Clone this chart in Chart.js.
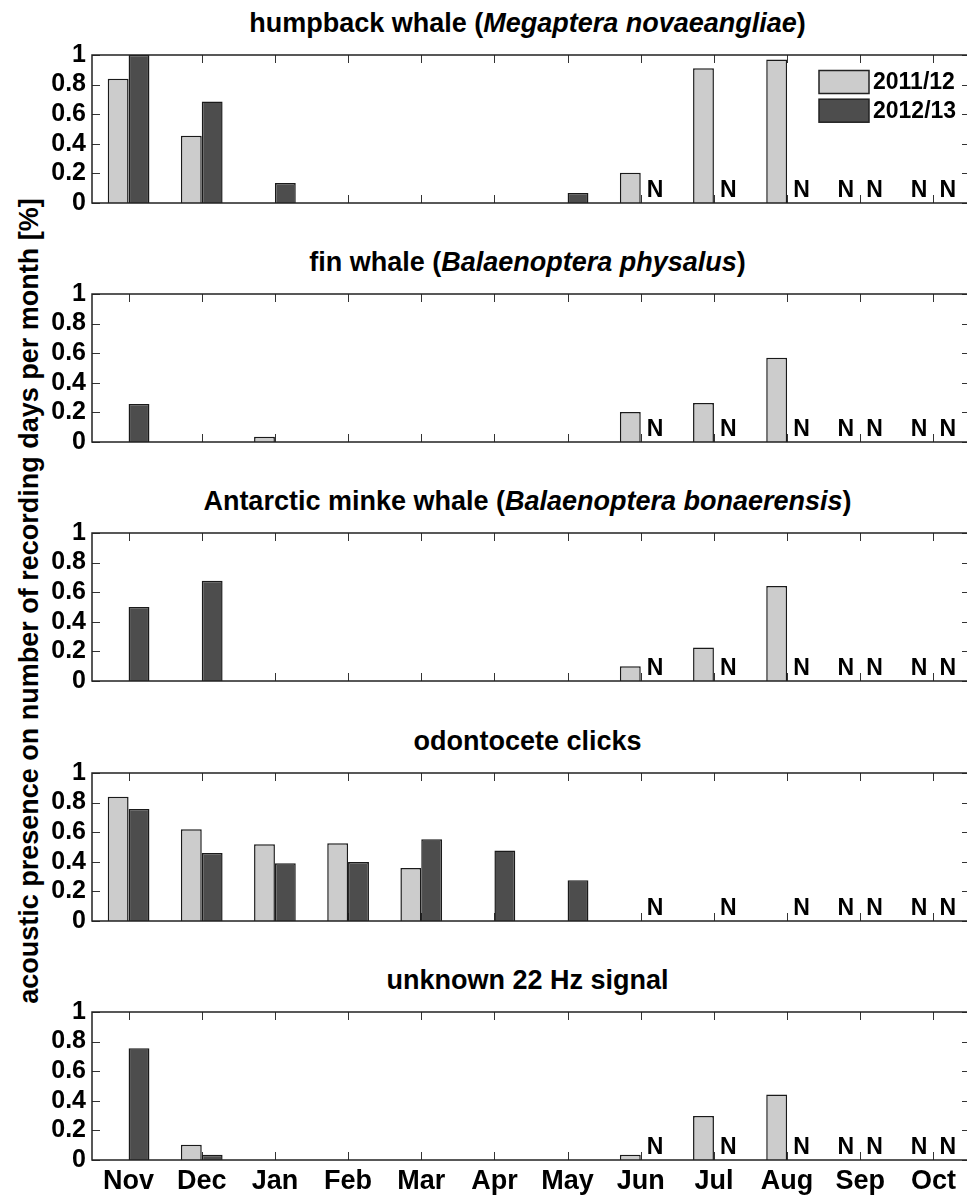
<!DOCTYPE html>
<html>
<head>
<meta charset="utf-8">
<script src="https://cdn.jsdelivr.net/npm/chart.js@4.4.1/dist/chart.umd.min.js"></script>
<style>
  html, body { margin: 0; padding: 0; background: #fff; overflow: hidden; }
  #fig {
    position: relative; width: 967px; height: 1196px; overflow: hidden;
    font-family: "Liberation Sans", Arial, sans-serif; font-weight: bold; color: #000;
  }
  #fig canvas { position: absolute; left: 0; }
  .title {
    position: absolute; left: 0; width: 1055px; text-align: center;
    font-size: 27px; line-height: 27px; white-space: nowrap;
  }
  #ylabel {
    position: absolute; left: 29px; top: 601px;
    font-size: 27px; line-height: 27px; white-space: nowrap;
    transform: translate(-50%, -50%) rotate(-90deg);
  }
</style>
</head>
<body>
<div id="fig">
  <div id="ylabel">acoustic presence on number of recording days per month [%]</div>
</div>
<script>
// months of the recording year, Nov..Oct
const months = ['Nov', 'Dec', 'Jan', 'Feb', 'Mar', 'Apr', 'May', 'Jun', 'Jul', 'Aug', 'Sep', 'Oct'];
const seasons = ['2011/12', '2012/13'];

// panel headings: common name + species (italic), empty when there is none
const commonNames = ['humpback whale', 'fin whale', 'Antarctic minke whale', 'odontocete clicks', 'unknown 22 Hz signal'];
const speciesNames = ['Megaptera novaeangliae', 'Balaenoptera physalus', 'Balaenoptera bonaerensis', '', ''];

// fraction of recording days with presence; null = no recordings (drawn as "N")
const humpback1112 = [0.84, 0.455, 0, 0, 0, 0, 0, 0.205, 0.91, 0.97, null, null];
const humpback1213 = [1.0, 0.685, 0.135, 0, 0, 0, 0.067, null, null, null, null, null];

const fin1112 = [0, 0, 0.035, 0, 0, 0, 0, 0.203, 0.264, 0.569, null, null];
const fin1213 = [0.257, 0, 0, 0, 0, 0, 0, null, null, null, null, null];

const minke1112 = [0, 0, 0, 0, 0, 0, 0, 0.10, 0.226, 0.642, null, null];
const minke1213 = [0.5, 0.678, 0, 0, 0, 0, 0, null, null, null, null, null];

const odonto1112 = [0.839, 0.62, 0.519, 0.526, 0.358, 0, 0, 0, 0, 0, null, null];
const odonto1213 = [0.756, 0.459, 0.391, 0.398, 0.553, 0.477, 0.275, null, null, null, null, null];

const hz22_1112 = [0, 0.103, 0, 0, 0, 0, 0, 0.036, 0.298, 0.442, null, null];
const hz22_1213 = [0.755, 0.036, 0, 0, 0, 0, 0, null, null, null, null, null];

const series = [
  [humpback1112, humpback1213],
  [fin1112, fin1213],
  [minke1112, minke1213],
  [odonto1112, odonto1213],
  [hz22_1112, hz22_1213]
];

// layout
const plotTops = [55, 294, 533, 773, 1012];
const PLOT_H = 148;
const PAD = 22;          // >= half tick label + tick padding, so chart area starts exactly here
const XLABEL_H = 36;
const AXIS_LEFT = 92;
const CANVAS_W = 980;
const PAD_RIGHT = 10;
const TICK = 8;
const CAT_PCT = 0.57;
const FONT = '"Liberation Sans", Arial, sans-serif';
const colors = ['#cccccc', '#4d4d4d'];

Chart.defaults.font.family = FONT;
Chart.defaults.font.weight = 'bold';
Chart.defaults.color = '#000';

// box, inward ticks, "N" markers and legend, MATLAB style
const framePlugin = {
  id: 'frame',
  beforeDatasetsDraw(chart) {
    const { ctx, chartArea: a, scales: { x, y } } = chart;
    ctx.save();
    ctx.strokeStyle = '#333';
    ctx.lineWidth = 1;
    ctx.beginPath();
    chart.data.labels.forEach((_, i) => {
      const px = Math.round(x.getPixelForValue(i)) + 0.5;
      ctx.moveTo(px, a.top); ctx.lineTo(px, a.top + TICK);
      ctx.moveTo(px, a.bottom); ctx.lineTo(px, a.bottom - TICK);
    });
    y.ticks.forEach(t => {
      const py = Math.round(y.getPixelForValue(t.value)) + 0.5;
      ctx.moveTo(a.left, py); ctx.lineTo(a.left + TICK, py);
      ctx.moveTo(a.right, py); ctx.lineTo(a.right - TICK, py);
    });
    ctx.stroke();
    ctx.restore();
  },
  afterDatasetsDraw(chart, args, opts) {
    const { ctx, chartArea: a, scales: { x, y } } = chart;
    ctx.save();
    ctx.strokeStyle = '#222';
    ctx.lineWidth = 1.5;
    ctx.strokeRect(a.left, a.top, a.right - a.left, a.bottom - a.top);

    // N where a season has no recordings
    const slot = (x.width / chart.data.labels.length) * CAT_PCT / 2;
    ctx.font = 'bold 23px ' + FONT;
    ctx.fillStyle = '#000';
    ctx.textAlign = 'center';
    ctx.textBaseline = 'alphabetic';
    chart.data.datasets.forEach((ds, di) => {
      const meta = chart.getDatasetMeta(di);
      const side = di === 0 ? -1 : 1;
      ds.data.forEach((v, j) => {
        if (v !== null) return;
        const el = meta.data[j];
        const cx = el && isFinite(el.x) ? el.x : x.getPixelForValue(j) + side * slot / 2;
        ctx.fillText('N', cx + side * 4, y.getPixelForValue(0) - 6);
      });
    });

    if (opts.legend) {
      const bx = a.right - 151;
      const by = a.top + 15.5;
      ctx.font = 'bold 23px ' + FONT;
      ctx.textAlign = 'left';
      ctx.textBaseline = 'middle';
      chart.data.datasets.forEach((ds, k) => {
        const ty = by + k * 28.7;
        ctx.fillStyle = ds.backgroundColor;
        ctx.fillRect(bx, ty, 50, 23);
        ctx.strokeStyle = '#222';
        ctx.lineWidth = 1.5;
        ctx.strokeRect(bx, ty, 50, 23);
        ctx.fillStyle = '#000';
        ctx.fillText(ds.label, bx + 54, ty + 12);
      });
    }
    ctx.restore();
  }
};

const fig = document.getElementById('fig');

series.forEach((pair, i) => {
  const last = i === series.length - 1;

  const title = document.createElement('div');
  title.className = 'title';
  title.style.top = (plotTops[i] - 45) + 'px';
  title.innerHTML = speciesNames[i]
    ? `${commonNames[i]} (<i>${speciesNames[i]}</i>)`
    : commonNames[i];
  fig.appendChild(title);

  const canvas = document.createElement('canvas');
  canvas.width = CANVAS_W;
  canvas.height = PAD + PLOT_H + (last ? XLABEL_H : PAD);
  canvas.style.top = (plotTops[i] - PAD) + 'px';
  fig.appendChild(canvas);

  new Chart(canvas, {
    type: 'bar',
    data: {
      labels: months,
      datasets: pair.map((values, k) => ({
        label: seasons[k],
        data: values,
        backgroundColor: colors[k],
        borderColor: '#1a1a1a',
        borderWidth: 1.5,
        categoryPercentage: CAT_PCT,
        barPercentage: 1
      }))
    },
    options: {
      responsive: false,
      animation: false,
      events: [],
      layout: { padding: { top: PAD, right: PAD_RIGHT, bottom: last ? 0 : PAD, left: 0 } },
      plugins: {
        legend: { display: false },
        tooltip: { enabled: false },
        frame: { legend: i === 0 }
      },
      scales: {
        x: {
          grid: { display: false, drawTicks: false },
          border: { display: false },
          ticks: { display: last, autoSkip: false, maxRotation: 0, padding: 5, font: { size: 27, weight: 'bold' } },
          afterFit: s => { s.height = last ? XLABEL_H : 0; }
        },
        y: {
          min: 0,
          max: 1,
          grid: { display: false, drawTicks: false },
          border: { display: false },
          ticks: {
            stepSize: 0.2,
            autoSkip: false,
            padding: 6,
            font: { size: 25, weight: 'bold' },
            callback: v => String(+v.toFixed(1))
          },
          afterFit: s => { s.width = AXIS_LEFT; }
        }
      }
    },
    plugins: [framePlugin]
  });
});
</script>
</body>
</html>
